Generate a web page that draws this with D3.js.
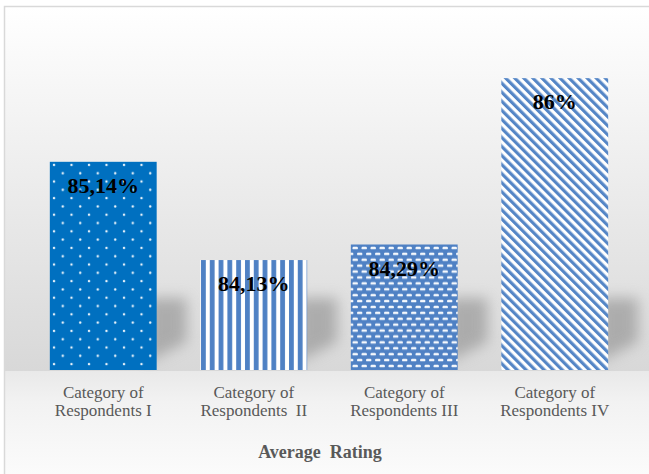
<!DOCTYPE html>
<head>
  <meta charset="utf-8">
  <script src="https://d3js.org/d3.v7.min.js"></script>
  <style>
body { margin: 0; background: #fff; }
.cat { font-family: "Liberation Serif", "Times New Roman", serif; font-size: 17px; fill: #595959; white-space: pre; }
.val { font-family: "Liberation Serif", "Times New Roman", serif; font-size: 22px; font-weight: 700; fill: #000; }
.title { font-family: "Liberation Serif", "Times New Roman", serif; font-size: 18px; font-weight: 700; fill: #595959; white-space: pre; }
  </style>
</head>
<body>
  <script>
    var categories = ["Category of\nRespondents I", "Category of\nRespondents  II", "Category of\nRespondents III", "Category of\nRespondents IV"];
    var values = [85.14, 84.13, 84.29, 86];
    var valueLabels = ["85,14%", "84,13%", "84,29%", "86%"];
    var fills = ["dots", "vstripes", "weave", "diag"];
    var yDomain = [83, 86.5];

    var W = 649, H = 474;
    var svg = d3.select("body").append("svg")
      .attr("width", W)
      .attr("height", H);

    var defs = svg.append("defs");

    // backgrounds
    var g1 = defs.append("linearGradient").attr("id", "plotBg")
      .attr("x1", 0).attr("y1", 0).attr("x2", 0).attr("y2", 1);
    g1.append("stop").attr("offset", "0%").attr("stop-color", "#ffffff");
    g1.append("stop").attr("offset", "100%").attr("stop-color", "#d8d8d8");
    var g2 = defs.append("linearGradient").attr("id", "lowBg")
      .attr("x1", 0).attr("y1", 0).attr("x2", 0).attr("y2", 1);
    g2.append("stop").attr("offset", "0%").attr("stop-color", "#e9e9e9");
    g2.append("stop").attr("offset", "30%").attr("stop-color", "#f2f2f2");
    g2.append("stop").attr("offset", "100%").attr("stop-color", "#fbfbfb");

    var blur = defs.append("filter").attr("id", "blur")
      .attr("x", "-50%").attr("y", "-50%").attr("width", "200%").attr("height", "200%");
    blur.append("feGaussianBlur").attr("stdDeviation", 7);

    // pattern fills
    var p = defs.append("pattern").attr("id", "dots").attr("patternUnits", "userSpaceOnUse")
      .attr("width", 17.5).attr("height", 16.6).attr("x", 50).attr("y", 161);
    p.append("rect").attr("width", 17.5).attr("height", 16.6).attr("fill", "#0070c0");
    p.append("circle").attr("cx", 4).attr("cy", 4).attr("r", 1.2).attr("fill", "#eef6fc");
    p.append("circle").attr("cx", 12.75).attr("cy", 12.3).attr("r", 1.2).attr("fill", "#eef6fc");

    p = defs.append("pattern").attr("id", "vstripes").attr("patternUnits", "userSpaceOnUse")
      .attr("width", 8.8).attr("height", 10).attr("x", 200);
    p.append("rect").attr("width", 8.8).attr("height", 10).attr("fill", "#ffffff");
    p.append("rect").attr("x", 1).attr("width", 4.8).attr("height", 10).attr("fill", "#4f81c4");

    p = defs.append("pattern").attr("id", "weave").attr("patternUnits", "userSpaceOnUse")
      .attr("width", 9).attr("height", 11.8).attr("x", 351).attr("y", 245);
    p.append("rect").attr("width", 9).attr("height", 11.8).attr("fill", "#4f81c4");
    [[1.5, 1.7], [6, 7.6], [-3, 7.6]].forEach(function(d) {
      p.append("rect").attr("x", d[0]).attr("y", d[1]).attr("width", 5.4).attr("height", 2.6)
        .attr("rx", 1.2).attr("fill", "#f4f8fd");
    });

    p = defs.append("pattern").attr("id", "diag").attr("patternUnits", "userSpaceOnUse")
      .attr("width", 6.4).attr("height", 6.4).attr("patternTransform", "rotate(-45)");
    p.append("rect").attr("width", 6.4).attr("height", 6.4).attr("fill", "#ffffff");
    p.append("rect").attr("width", 3.2).attr("height", 6.4).attr("fill", "#5586c6");

    // chart area
    svg.append("rect").attr("x", 5).attr("y", 7).attr("width", W).attr("height", 364)
      .attr("fill", "url(#plotBg)");
    svg.append("rect").attr("x", 5).attr("y", 371).attr("width", W).attr("height", H - 371)
      .attr("fill", "url(#lowBg)");
    svg.append("path").attr("d", "M4.5," + (H + 5) + "V6.5H" + (W + 5))
      .attr("fill", "none").attr("stroke", "#d9d9d9").attr("stroke-width", 1.5);

    var x = d3.scaleBand()
      .domain(d3.range(values.length))
      .range([28, 630])
      .paddingInner(0.29)
      .paddingOuter(0.145);

    var y = d3.scaleLinear()
      .domain(yDomain)
      .range([370, 29.5]);

    var data = values.map(function(v, i) {
      return { v: v, label: valueLabels[i], cat: categories[i], fill: fills[i], i: i };
    });

    // shadows
    svg.append("g").selectAll("path")
      .data(data)
      .enter().append("path")
      .attr("d", function(d) {
        var x1 = x(d.i) + x.bandwidth(), b = y(yDomain[0]);
        return "M" + (x1 - 10) + "," + (b - 8) + "L" + (x1 + 30) + "," + (b - 28) +
          "L" + (x1 + 30) + "," + (b - 72) + "L" + (x1 - 10) + "," + (b - 72) + "Z";
      })
      .attr("fill", "#8c8c8c")
      .attr("opacity", 0.6)
      .attr("filter", "url(#blur)");

    // bars
    svg.append("g").selectAll("rect")
      .data(data)
      .enter().append("rect")
      .attr("x", function(d) { return x(d.i); })
      .attr("y", function(d) { return y(d.v); })
      .attr("width", x.bandwidth())
      .attr("height", function(d) { return y(yDomain[0]) - y(d.v); })
      .attr("fill", function(d) { return "url(#" + d.fill + ")"; });

    // value labels
    svg.append("g").selectAll("text")
      .data(data)
      .enter().append("text")
      .attr("class", "val")
      .attr("x", function(d) { return x(d.i) + x.bandwidth() / 2; })
      .attr("y", function(d) { return y(d.v) + 31; })
      .attr("text-anchor", "middle")
      .text(function(d) { return d.label; });

    // category labels
    var cats = svg.append("g").selectAll("text")
      .data(data)
      .enter().append("text")
      .attr("class", "cat")
      .attr("text-anchor", "middle")
      .attr("transform", function(d) { return "translate(" + (x(d.i) + x.bandwidth() / 2) + ",398)"; });
    cats.selectAll("tspan")
      .data(function(d) { return d.cat.split("\n"); })
      .enter().append("tspan")
      .attr("x", 0)
      .attr("dy", function(d, k) { return k ? 18 : 0; })
      .text(function(d) { return d; });

    svg.append("text")
      .attr("class", "title")
      .attr("x", 320)
      .attr("y", 458)
      .attr("text-anchor", "middle")
      .text("Average  Rating");
  </script>
</body>
